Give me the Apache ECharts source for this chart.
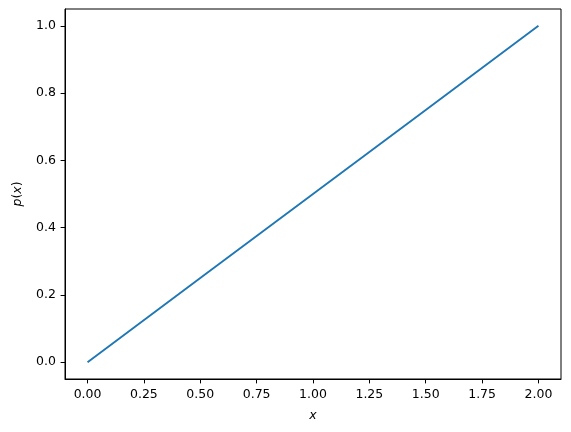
<!DOCTYPE html>
<html>
<head>
<meta charset="utf-8">
<script src="https://cdn.jsdelivr.net/npm/echarts@6/dist/echarts.min.js"></script>
<style>html,body{margin:0;padding:0;background:#fff}#c{width:571px;height:432px}</style>
</head>
<body>
<div id="c"></div>
<script>
var xValues = [0, 0.5, 1.0, 1.5, 2.0];
var yValues = [0, 0.25, 0.5, 0.75, 1.0];
var xTicks = [0, 0.25, 0.5, 0.75, 1.0, 1.25, 1.5, 1.75, 2.0];
var yTicks = [0, 0.2, 0.4, 0.6, 0.8, 1.0];

var chart = echarts.init(document.getElementById('c'));
var font = 'DejaVu Sans';
var fs = 12.5;
chart.setOption({
  animation: false,
  grid: {left: 65, right: 10, top: 9, bottom: 53, show: true, borderColor: '#000', borderWidth: 1, containLabel: false},
  xAxis: {
    type: 'value', min: -0.1, max: 2.1,
    name: '{i|x}', nameLocation: 'middle', nameGap: 30,
    nameTextStyle: {rich: {i: {fontFamily: font, fontSize: fs, fontStyle: 'italic', color: '#000'}}},
    splitLine: {show: false},
    axisLine: {show: true, onZero: false, lineStyle: {color: '#000', width: 1}},
    axisTick: {show: true, length: 4.4, lineStyle: {color: '#000'}, customValues: xTicks},
    axisLabel: {customValues: xTicks, fontFamily: font, fontSize: fs, color: '#000', margin: 9,
      formatter: function (v) { return v.toFixed(2); }}
  },
  yAxis: {
    type: 'value', min: -0.05, max: 1.05,
    name: '{i|p}{n|(}{i|x}{n|)}', nameLocation: 'middle', nameGap: 41,
    nameTextStyle: {rich: {
      i: {fontFamily: font, fontSize: fs, fontStyle: 'italic', color: '#000'},
      n: {fontFamily: font, fontSize: fs, color: '#000'}}},
    splitLine: {show: false},
    axisLine: {show: true, onZero: false, lineStyle: {color: '#000', width: 1}},
    axisTick: {show: true, length: 4.4, lineStyle: {color: '#000'}, customValues: yTicks},
    axisLabel: {customValues: yTicks, fontFamily: font, fontSize: fs, color: '#000', margin: 9,
      formatter: function (v) { return v.toFixed(1); }}
  },
  series: [{
    type: 'line',
    data: xValues.map(function (x, i) { return [x, yValues[i]]; }),
    showSymbol: false,
    lineStyle: {color: '#1f77b4', width: 1.9},
    itemStyle: {color: '#1f77b4'}
  }]
});
</script>
</body>
</html>
